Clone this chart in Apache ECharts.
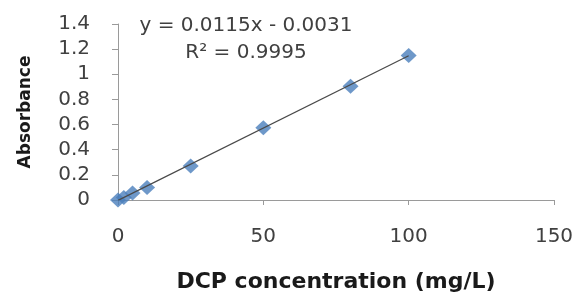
<!DOCTYPE html>
<html>
<head>
<meta charset="utf-8">
<script src="https://cdn.jsdelivr.net/npm/echarts@6/dist/echarts.min.js"></script>
<style>
  html, body { margin: 0; padding: 0; background: #fff; }
  #chart { width: 577px; height: 292px; }
</style>
</head>
<body>
<div id="chart"></div>
<script>
// concentration (mg/L) vs absorbance
const concentration = [0, 2, 5, 10, 25, 50, 80, 100]
const absorbance = [0.0, 0.02, 0.055, 0.1, 0.27, 0.575, 0.905, 1.15]
// linear trend line end points (y = 0.0115x - 0.0031)
const trendX = [0, 100]
const trendY = [-0.0031, 1.1469]
const equationText = 'y = 0.0115x - 0.0031'
const r2Text = 'R² = 0.9995'

const font = '"DejaVu Sans", sans-serif'
const chart = echarts.init(document.getElementById('chart'))

chart.setOption({
  animation: false,
  textStyle: { fontFamily: font },
  grid: { left: 118, right: 23, top: 24, bottom: 92, containLabel: false, outerBoundsMode: 'none' },
  xAxis: {
    type: 'value',
    min: 0,
    max: 150,
    interval: 50,
    name: 'DCP concentration (mg/L)',
    nameLocation: 'middle',
    nameGap: 71,
    nameTextStyle: { fontSize: 22, fontWeight: 'bold', color: '#1a1a1a', fontFamily: font },
    axisLine: { show: true, lineStyle: { color: '#9a9a9a', width: 1 } },
    axisTick: { show: true, length: 5, lineStyle: { color: '#9a9a9a' } },
    axisLabel: { fontSize: 20, color: '#404040', margin: 27, fontFamily: font },
    splitLine: { show: false }
  },
  yAxis: {
    type: 'value',
    min: 0,
    max: 1.4,
    interval: 0.2,
    name: 'Absorbance',
    nameLocation: 'middle',
    nameGap: 84,
    nameTextStyle: { fontSize: 17, fontWeight: 'bold', color: '#1a1a1a', fontFamily: font },
    axisLine: { show: true, lineStyle: { color: '#9a9a9a', width: 1 } },
    axisTick: { show: true, length: 6, lineStyle: { color: '#9a9a9a' } },
    axisLabel: { fontSize: 20, color: '#404040', margin: 28, fontFamily: font },
    splitLine: { show: false }
  },
  graphic: [
    {
      type: 'text',
      x: 246,
      y: 12,
      style: {
        text: equationText + '\n' + r2Text,
        textAlign: 'center',
        textVerticalAlign: 'top',
        fontSize: 20,
        lineHeight: 27,
        fill: '#404040',
        fontFamily: font
      }
    }
  ],
  series: [
    {
      type: 'line',
      data: trendX.map((x, i) => [x, trendY[i]]),
      symbol: 'none',
      lineStyle: { color: '#4a4a4a', width: 1.2 },
      z: 3
    },
    {
      type: 'scatter',
      data: concentration.map((x, i) => [x, absorbance[i]]),
      symbol: 'diamond',
      symbolSize: [16, 15],
      itemStyle: { color: '#4a7ebb' },
      z: 2
    }
  ]
})
</script>
</body>
</html>
